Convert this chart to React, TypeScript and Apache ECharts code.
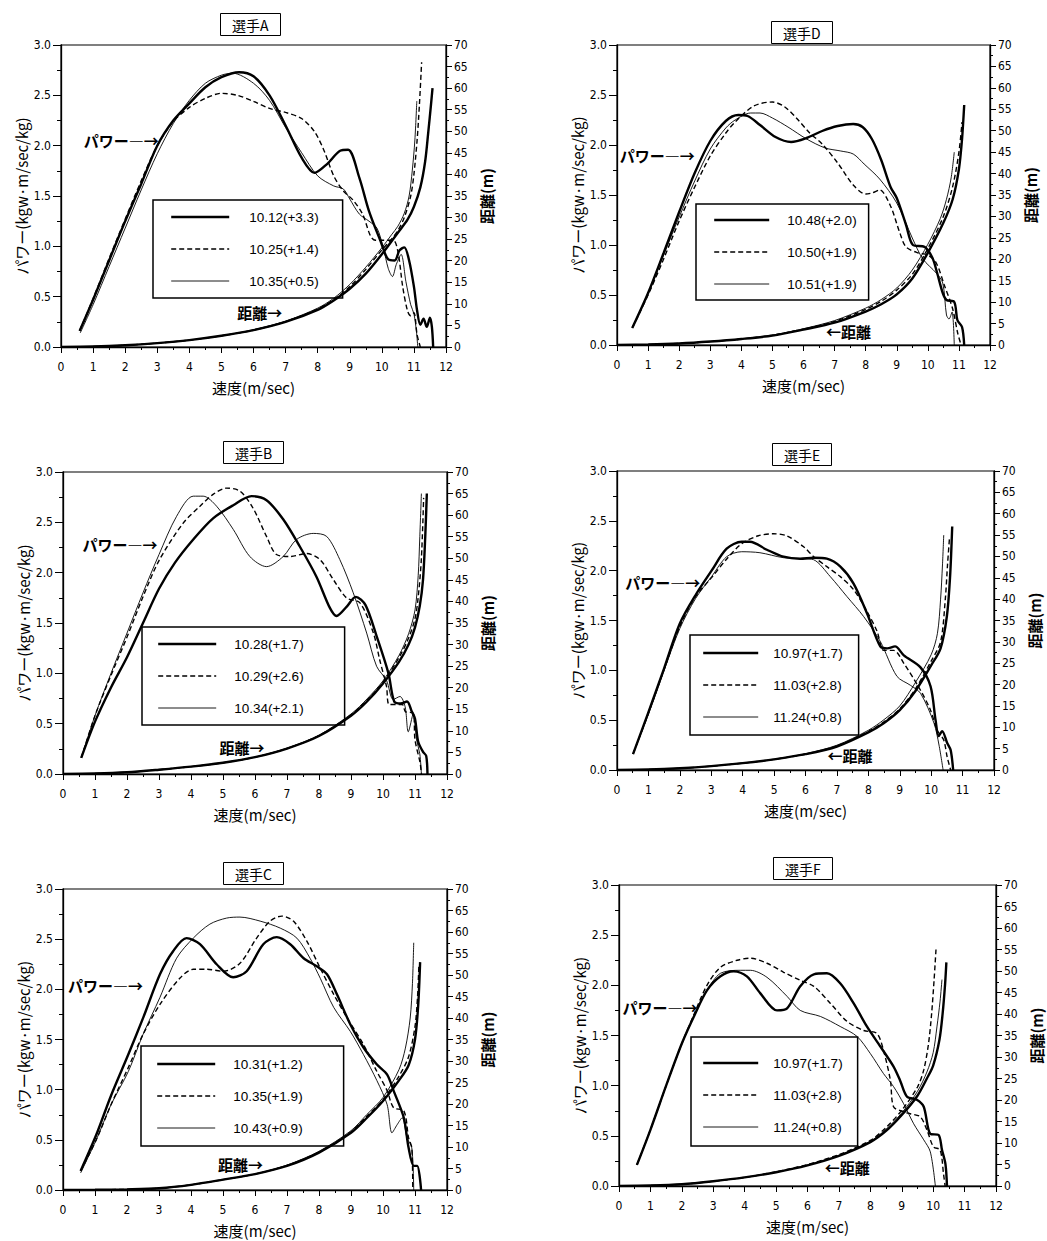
import React, { useEffect, useRef } from "react";
import * as echarts from "echarts";

// ---------------- data ----------------
const A_NAMES = ["10.12(+3.3)", "10.25(+1.4)", "10.35(+0.5)"];
const A_POWER_1 = [[0.58,0.16],[1,0.47],[1.5,0.86],[2,1.25],[2.5,1.62],[3,2.0],[3.5,2.25],[4,2.42],[4.5,2.58],[5,2.68],[5.55,2.73],[6,2.69],[6.5,2.5],[7,2.2],[7.5,1.88],[7.9,1.73],[8.3,1.82],[8.7,1.95],[8.95,1.96],[9.3,1.68],[9.6,1.35],[9.95,1.06],[10.2,0.87],[10.4,0.86],[10.55,0.96],[10.7,0.99],[10.85,0.86],[11,0.6],[11.1,0.36],[11.2,0.22],[11.3,0.28],[11.4,0.2],[11.5,0.29],[11.56,0.2],[11.6,0]];
const A_POWER_2 = [[0.58,0.16],[1,0.48],[1.5,0.88],[2,1.27],[2.5,1.65],[3,2.0],[3.5,2.24],[4,2.38],[4.5,2.47],[5,2.52],[5.5,2.5],[6,2.44],[6.5,2.37],[7,2.33],[7.5,2.27],[7.9,2.14],[8.2,1.95],[8.5,1.7],[8.8,1.55],[9.1,1.46],[9.4,1.32],[9.65,1.1],[9.8,1.06],[10.35,1.06],[10.5,0.95],[10.65,0.6],[10.8,0.36],[10.9,0.31],[11.0,0.34],[11.1,0.12],[11.2,0]];
const A_POWER_3 = [[0.6,0.14],[1,0.42],[1.5,0.8],[2,1.18],[2.5,1.56],[3,1.92],[3.5,2.22],[4,2.45],[4.5,2.62],[5,2.7],[5.35,2.72],[6,2.62],[6.5,2.45],[7,2.18],[7.5,1.93],[8,1.7],[8.5,1.6],[8.8,1.57],[9,1.47],[9.3,1.32],[9.6,1.25],[9.85,1.18],[10.05,0.98],[10.2,0.78],[10.33,0.7],[10.45,0.82],[10.6,0.92],[10.75,0.65],[10.9,0.42],[11.0,0.33],[11.08,0.15],[11.12,0]];
const A_DIST_1 = [[0,0],[1,0.1],[2,0.4],[3,0.9],[4,1.6],[5,2.6],[6,3.9],[7,5.8],[8,8.6],[8.5,10.8],[9,13.5],[9.5,17],[10,21.5],[10.5,26.5],[10.8,29.5],[11,32.5],[11.2,37],[11.35,43],[11.45,50],[11.53,56],[11.58,60]];
const A_DIST_2 = [[0,0],[1,0.1],[2,0.4],[3,0.9],[4,1.6],[5,2.6],[6,3.9],[7,5.9],[8,8.8],[8.5,11],[9,14],[9.5,18],[10,22.5],[10.3,25],[10.5,27],[10.7,30],[10.9,35],[11.0,40],[11.1,48],[11.17,56],[11.24,66]];
const A_DIST_3 = [[0,0],[1,0.1],[2,0.4],[3,0.9],[4,1.6],[5,2.6],[6,4.0],[7,6.0],[8,9.0],[8.5,11.3],[9,14.5],[9.5,18.5],[10,23],[10.3,26],[10.5,28],[10.7,31],[10.85,35],[10.95,41],[11.03,48],[11.09,57]];

const B_NAMES = ["10.28(+1.7)", "10.29(+2.6)", "10.34(+2.1)"];
const B_POWER_1 = [[0.57,0.16],[1,0.52],[1.5,0.86],[2,1.16],[2.5,1.5],[3,1.84],[3.5,2.1],[4.07,2.33],[4.69,2.54],[5.32,2.67],[5.89,2.76],[6.36,2.72],[6.88,2.53],[7.4,2.26],[7.92,1.96],[8.34,1.65],[8.55,1.57],[8.86,1.66],[9.15,1.76],[9.45,1.68],[9.8,1.37],[10.17,1.0],[10.35,0.72],[10.55,0.7],[10.75,0.72],[10.9,0.62],[11.0,0.55],[11.1,0.32],[11.25,0.22],[11.35,0.18],[11.39,0]];
const B_POWER_2 = [[0.57,0.16],[1,0.58],[1.5,0.98],[2,1.36],[2.5,1.76],[3,2.12],[3.75,2.49],[4.28,2.66],[4.7,2.78],[5.11,2.84],[5.53,2.81],[5.94,2.64],[6.36,2.36],[6.67,2.18],[7.09,2.16],[7.61,2.19],[8.03,2.13],[8.45,1.93],[8.86,1.75],[9.28,1.7],[9.7,1.4],[9.9,1.13],[10.11,0.87],[10.2,0.69],[10.6,0.69],[10.7,0.62],[10.95,0.6],[11.0,0.34],[11.16,0.11],[11.2,0]];
const B_POWER_3 = [[0.57,0.16],[1,0.58],[1.5,1.0],[2,1.4],[2.5,1.8],[3,2.18],[3.55,2.56],[4.07,2.76],[4.38,2.76],[4.8,2.66],[5.32,2.43],[5.84,2.16],[6.36,2.06],[6.88,2.16],[7.3,2.33],[7.82,2.39],[8.24,2.36],[8.65,2.13],[9.07,1.8],[9.49,1.4],[9.8,1.07],[10.11,0.93],[10.32,0.74],[10.53,0.77],[10.69,0.67],[10.79,0.42],[10.95,0.6],[11.05,0.34],[11.15,0.2],[11.2,0]];
const B_DIST_1 = [[0,0],[1,0.1],[2,0.4],[3,1.0],[4,1.7],[5,2.6],[6,3.9],[7,5.9],[8,8.8],[9,13.5],[9.5,16.8],[10,21],[10.5,26],[10.8,30],[11,34],[11.15,39],[11.25,45],[11.32,55],[11.37,65]];
const B_DIST_2 = [[0,0],[1,0.1],[2,0.4],[3,1.0],[4,1.7],[5,2.6],[6,3.9],[7,5.9],[8,8.9],[9,13.7],[9.5,17.1],[10,21.3],[10.5,27],[10.8,31.5],[11,36],[11.1,41],[11.2,50],[11.27,64]];
const B_DIST_3 = [[0,0],[1,0.1],[2,0.4],[3,1.0],[4,1.7],[5,2.6],[6,3.9],[7,6.0],[8,9.0],[9,13.9],[9.5,17.4],[10,21.6],[10.5,27.5],[10.8,32.5],[11,38],[11.1,46],[11.15,55],[11.2,65]];

const C_NAMES = ["10.31(+1.2)", "10.35(+1.9)", "10.43(+0.9)"];
const C_POWER_1 = [[0.55,0.19],[1.04,0.55],[1.5,0.94],[2.04,1.35],[2.51,1.72],[3.03,2.15],[3.44,2.38],[3.86,2.51],[4.28,2.45],[4.8,2.25],[5.32,2.12],[5.74,2.18],[6.26,2.45],[6.68,2.52],[7.1,2.45],[7.52,2.31],[7.93,2.23],[8.25,2.15],[8.56,1.95],[8.98,1.65],[9.39,1.42],[9.81,1.25],[10.13,1.15],[10.33,0.99],[10.65,0.72],[10.8,0.42],[10.96,0.24],[11.07,0.24],[11.19,0]];
const C_POWER_2 = [[0.55,0.19],[1.04,0.5],[1.5,0.85],[2.04,1.22],[2.5,1.55],[3.03,1.85],[3.65,2.11],[4.07,2.2],[4.49,2.2],[5.01,2.18],[5.53,2.26],[6.05,2.51],[6.47,2.68],[6.84,2.73],[7.2,2.68],[7.62,2.48],[8.04,2.21],[8.46,1.95],[8.87,1.72],[9.39,1.45],[9.81,1.18],[10.13,0.99],[10.33,0.82],[10.65,0.79],[10.8,0.52],[10.9,0.42],[10.93,0]];
const C_POWER_3 = [[0.55,0.17],[1.04,0.5],[1.5,0.85],[2.04,1.18],[2.5,1.55],[3.03,1.92],[3.55,2.31],[4.07,2.51],[4.59,2.65],[5.11,2.71],[5.53,2.72],[6.16,2.68],[6.79,2.61],[7.31,2.51],[7.72,2.31],[8.04,2.11],[8.46,1.82],[8.98,1.58],[9.39,1.35],[9.81,1.09],[10.13,0.85],[10.28,0.57],[10.44,0.65],[10.6,0.72],[10.75,0.52],[10.9,0.42],[10.96,0]];
const C_DIST_1 = [[0,0],[1,0.05],[2,0.15],[3,0.4],[4,1.2],[5,2.4],[6,3.7],[7,5.6],[8,8.7],[9,13.3],[9.5,16.8],[10,20.7],[10.5,25.5],[10.8,29],[11,35],[11.1,43],[11.16,53]];
const C_DIST_2 = [[0,0],[1,0.05],[2,0.15],[3,0.4],[4,1.2],[5,2.4],[6,3.7],[7,5.7],[8,8.8],[9,13.5],[9.5,17.2],[10,21],[10.5,26.5],[10.8,31],[11,38],[11.08,45],[11.12,52]];
const C_DIST_3 = [[0,0],[1,0.05],[2,0.15],[3,0.4],[4,1.2],[5,2.4],[6,3.7],[7,5.8],[8,9.0],[9,13.8],[9.5,17.6],[10,21.5],[10.5,28],[10.7,33],[10.85,40],[10.92,48],[10.96,57.5]];

const D_NAMES = ["10.48(+2.0)", "10.50(+1.9)", "10.51(+1.9)"];
const D_POWER_1 = [[0.49,0.17],[1,0.52],[1.5,0.92],[2,1.33],[2.5,1.72],[3,2.04],[3.5,2.24],[3.9,2.3],[4.2,2.29],[4.6,2.2],[5.1,2.08],[5.6,2.03],[6.1,2.07],[6.6,2.14],[7.1,2.19],[7.6,2.21],[7.9,2.18],[8.2,2.06],[8.5,1.85],[8.8,1.58],[9.0,1.47],[9.3,1.2],[9.52,1.0],[9.9,0.98],[10.15,0.87],[10.3,0.72],[10.48,0.52],[10.6,0.45],[10.85,0.43],[10.95,0.25],[11.1,0.18],[11.17,0]];
const D_POWER_2 = [[0.49,0.17],[1,0.5],[1.5,0.86],[2,1.24],[2.5,1.58],[3,1.89],[3.5,2.12],[3.8,2.23],[4.4,2.39],[5.0,2.43],[5.4,2.38],[5.8,2.26],[6.2,2.12],[6.6,2.01],[7.1,1.82],[7.6,1.6],[8.0,1.51],[8.2,1.52],[8.45,1.55],[8.8,1.39],[9.1,1.12],[9.3,0.98],[9.7,0.92],[10.0,0.9],[10.27,0.82],[10.54,0.59],[10.8,0.36],[10.96,0.12],[11.07,0]];
const D_POWER_3 = [[0.49,0.17],[1,0.51],[1.5,0.9],[2,1.28],[2.5,1.64],[3,1.96],[3.5,2.17],[3.8,2.25],[4.3,2.32],[4.6,2.32],[5.0,2.27],[5.5,2.18],[6.1,2.06],[6.7,1.97],[7.2,1.94],[7.6,1.91],[7.95,1.81],[8.45,1.66],[9.0,1.42],[9.5,1.07],[9.84,0.86],[10.27,0.72],[10.48,0.62],[10.6,0.3],[10.68,0.26],[10.78,0.33],[10.85,0]];
const D_DIST_1 = [[0,0],[1,0.1],[2,0.35],[3,0.8],[4,1.4],[5,2.2],[6,3.6],[7,5.2],[8,7.8],[8.5,9.5],[9,11.8],[9.5,15.5],[10,21.5],[10.5,28.5],[10.8,34],[11,41],[11.1,48],[11.17,56]];
const D_DIST_2 = [[0,0],[1,0.1],[2,0.35],[3,0.8],[4,1.4],[5,2.3],[6,3.7],[7,5.5],[8,8.3],[8.5,10.2],[9,12.8],[9.5,16.5],[10,22.5],[10.5,30],[10.8,37],[11,45],[11.1,52]];
const D_DIST_3 = [[0,0],[1,0.1],[2,0.35],[3,0.8],[4,1.4],[5,2.3],[6,3.8],[7,5.7],[8,8.6],[8.5,10.6],[9,13.3],[9.5,17.5],[10,23.5],[10.4,29.5],[10.6,34],[10.75,39],[10.85,45]];

const E_NAMES = ["10.97(+1.7)", "11.03(+2.8)", "11.24(+0.8)"];
const E_POWER_1 = [[0.51,0.16],[0.99,0.57],[1.5,1.02],[2,1.47],[2.53,1.77],[3.01,2.0],[3.49,2.22],[3.97,2.29],[4.23,2.29],[4.77,2.21],[5.3,2.14],[5.83,2.12],[6.26,2.13],[6.68,2.12],[7.11,2.04],[7.53,1.87],[7.96,1.57],[8.38,1.24],[8.6,1.22],[8.85,1.24],[9.13,1.15],[9.66,1.03],[9.98,0.84],[10.14,0.5],[10.24,0.34],[10.35,0.39],[10.51,0.27],[10.62,0.2],[10.7,0]];
const E_POWER_2 = [[0.51,0.16],[1,0.57],[1.5,1.01],[2,1.44],[2.5,1.74],[3.01,1.93],[3.5,2.12],[3.97,2.27],[4.5,2.35],[4.98,2.37],[5.4,2.35],[5.94,2.24],[6.26,2.14],[6.68,2.04],[7.11,1.94],[7.53,1.81],[7.96,1.59],[8.28,1.39],[8.49,1.2],[8.81,1.2],[9.13,1.07],[9.66,0.8],[9.98,0.6],[10.19,0.4],[10.4,0.3],[10.51,0.13],[10.62,0]];
const E_POWER_3 = [[0.51,0.16],[1,0.56],[1.5,1.0],[2,1.42],[2.5,1.72],[3.01,1.94],[3.49,2.14],[3.97,2.19],[4.55,2.18],[5.3,2.13],[5.94,2.12],[6.26,2.11],[6.79,1.94],[7.32,1.74],[7.85,1.54],[8.38,1.29],[8.91,0.94],[9.34,0.85],[9.66,0.77],[10.09,0.47],[10.25,0.25],[10.38,0]];
const E_DIST_1 = [[0,0],[1,0.1],[2,0.4],[3,0.9],[4,1.6],[5,2.5],[6,3.7],[7,5.5],[8,8.8],[8.5,11],[9,14],[9.5,18.5],[10,24.5],[10.3,28.5],[10.5,36],[10.6,45],[10.67,57]];
const E_DIST_2 = [[0,0],[1,0.1],[2,0.4],[3,0.9],[4,1.6],[5,2.5],[6,3.7],[7,5.6],[8,9.0],[8.5,11.3],[9,14.3],[9.5,19],[10,25.5],[10.3,30],[10.45,40],[10.52,48],[10.58,54]];
const E_DIST_3 = [[0,0],[1,0.1],[2,0.4],[3,0.9],[4,1.6],[5,2.5],[6,3.8],[7,5.8],[8,9.3],[8.5,11.8],[9,15],[9.5,20.5],[10,27],[10.2,32],[10.3,40],[10.36,48],[10.4,55]];

const F_NAMES = ["10.97(+1.7)", "11.03(+2.8)", "11.24(+0.8)"];
const F_POWER_1 = [[0.57,0.21],[1,0.56],[1.5,1.0],[2,1.42],[2.4,1.7],[2.8,1.95],[3.23,2.09],[3.65,2.14],[4.07,2.09],[4.5,1.92],[5.03,1.75],[5.35,1.77],[5.77,1.99],[6.2,2.11],[6.62,2.12],[7.04,2.02],[7.47,1.82],[7.89,1.59],[8.32,1.39],[8.74,1.19],[8.95,1.05],[9.17,0.89],[9.48,0.86],[9.7,0.79],[9.91,0.52],[10.17,0.51],[10.28,0.36],[10.39,0.22],[10.44,0]];
const F_POWER_2 = [[0.57,0.21],[1,0.56],[1.5,1.0],[2,1.42],[2.4,1.72],[2.8,2.0],[3.23,2.18],[3.76,2.25],[4.18,2.27],[4.71,2.22],[5.24,2.13],[5.77,2.05],[6.2,1.99],[6.73,1.82],[7.26,1.64],[7.79,1.55],[8.21,1.52],[8.42,1.35],[8.64,1.05],[8.74,0.79],[9.06,0.74],[9.27,0.72],[9.59,0.69],[9.8,0.56],[10.01,0.39],[10.22,0.36],[10.33,0.12],[10.38,0]];
const F_POWER_3 = [[0.57,0.21],[1,0.56],[1.5,1.0],[2,1.42],[2.4,1.7],[2.8,1.95],[3.23,2.12],[3.86,2.15],[4.18,2.15],[4.71,2.08],[5.35,1.89],[5.77,1.75],[6.41,1.69],[7.04,1.59],[7.58,1.49],[8.0,1.32],[8.42,1.12],[8.74,0.99],[9.06,0.82],[9.38,0.62],[9.7,0.46],[9.91,0.34],[10.07,0]];
const F_DIST_1 = [[0,0],[1,0.1],[2,0.4],[3,1.1],[4,2.0],[5,3.2],[6,4.8],[7,7.0],[8,10.2],[8.5,12.8],[9,16.5],[9.5,21],[9.8,25],[10,28],[10.2,34],[10.3,40],[10.38,47],[10.42,52]];
const F_DIST_2 = [[0,0],[1,0.1],[2,0.4],[3,1.1],[4,2.0],[5,3.3],[6,5.0],[7,7.3],[8,10.6],[8.5,13.6],[9,17.6],[9.5,23],[9.7,27],[9.85,33],[9.95,40],[10.03,48],[10.09,55]];
const F_DIST_3 = [[0,0],[1,0.1],[2,0.4],[3,1.1],[4,2.0],[5,3.2],[6,4.9],[7,7.1],[8,10.4],[8.5,13.2],[9,17],[9.5,22],[9.8,26.5],[10,31],[10.12,37],[10.22,43],[10.28,48]];

const X_TICKS = [0, 12, 1];
const POWER_AXIS = [0, 3, 0.5];
const DIST_AXIS = [0, 70, 5];

// ---------------- layout / style ----------------
const FONT_NUM = '"Liberation Sans Narrow","DejaVu Sans Condensed","Liberation Sans",Arial,sans-serif';
const FONT_JP = '"Noto Sans CJK JP","Noto Sans",sans-serif';

const LINE_STYLES: any[] = [
  { width: 2.4, type: "solid" },
  { width: 1.4, type: [5, 3] },
  { width: 0.9, type: "solid" },
];

const PANELS: any[] = [
  {
    key: "A", title: "選手A", names: A_NAMES,
    power: [A_POWER_1, A_POWER_2, A_POWER_3], dist: [A_DIST_1, A_DIST_2, A_DIST_3],
    grid: { left: 61, top: 45, width: 385, height: 302 },
    titlePos: { left: 220, top: 13 },
    legend: { left: 153, top: 200, padding: [10, 24, 10, 17], itemWidth: 58, gap: 15 },
    pLabel: { at: [3.05, 2.05], side: "left" }, dLabel: { at: [6.9, 0.34], side: "left" },
  },
  {
    key: "B", title: "選手B", names: B_NAMES,
    power: [B_POWER_1, B_POWER_2, B_POWER_3], dist: [B_DIST_1, B_DIST_2, B_DIST_3],
    grid: { left: 63, top: 472, width: 384, height: 302 },
    titlePos: { left: 223, top: 441 },
    legend: { left: 142, top: 627, padding: [10, 41, 10, 15], itemWidth: 58, gap: 13 },
    pLabel: { at: [2.95, 2.28], side: "left" }, dLabel: { at: [6.3, 0.26], side: "left" },
  },
  {
    key: "C", title: "選手C", names: C_NAMES,
    power: [C_POWER_1, C_POWER_2, C_POWER_3], dist: [C_DIST_1, C_DIST_2, C_DIST_3],
    grid: { left: 63, top: 889, width: 384, height: 301 },
    titlePos: { left: 223, top: 862 },
    legend: { left: 141, top: 1046, padding: [11, 41, 11, 15], itemWidth: 58, gap: 13 },
    pLabel: { at: [2.5, 2.04], side: "left" }, dLabel: { at: [6.25, 0.25], side: "left" },
  },
  {
    key: "D", title: "選手D", names: D_NAMES,
    power: [D_POWER_1, D_POWER_2, D_POWER_3], dist: [D_DIST_1, D_DIST_2, D_DIST_3],
    grid: { left: 617, top: 45, width: 373, height: 300 },
    titlePos: { left: 771, top: 21 },
    legend: { left: 696, top: 204, padding: [9, 12, 9, 17], itemWidth: 55, gap: 13 },
    pLabel: { at: [2.5, 1.9], side: "left" }, dLabel: { at: [6.72, 0.14], side: "right" },
  },
  {
    key: "E", title: "選手E", names: E_NAMES,
    power: [E_POWER_1, E_POWER_2, E_POWER_3], dist: [E_DIST_1, E_DIST_2, E_DIST_3],
    grid: { left: 617, top: 471, width: 377, height: 299 },
    titlePos: { left: 772, top: 443 },
    legend: { left: 690, top: 635, padding: [11, 16, 11, 12], itemWidth: 55, gap: 10 },
    pLabel: { at: [2.65, 1.88], side: "left" }, dLabel: { at: [6.7, 0.15], side: "right" },
  },
  {
    key: "F", title: "選手F", names: F_NAMES,
    power: [F_POWER_1, F_POWER_2, F_POWER_3], dist: [F_DIST_1, F_DIST_2, F_DIST_3],
    grid: { left: 619, top: 885, width: 377, height: 301 },
    titlePos: { left: 773, top: 857 },
    legend: { left: 691, top: 1037, padding: [19, 15, 12, 11], itemWidth: 55, gap: 10 },
    pLabel: { at: [2.5, 1.78], side: "left" }, dLabel: { at: [6.55, 0.18], side: "right" },
  },
];

function buildOption() {
  const grid: any[] = [];
  const xAxis: any[] = [];
  const yAxis: any[] = [];
  const series: any[] = [];
  const legend: any[] = [];
  const title: any[] = [];
  const black = { color: "#000" };

  PANELS.forEach((p, i) => {
    grid.push({ ...p.grid, show: true, borderColor: "#000", borderWidth: 1.2, backgroundColor: "transparent" });
    title.push({
      text: p.title, left: p.titlePos.left, top: p.titlePos.top,
      borderColor: "#000", borderWidth: 1, padding: [4, 12],
      textStyle: { fontSize: 14, fontWeight: "normal", color: "#000", fontFamily: FONT_JP, lineHeight: 15 },
    });
    xAxis.push({
      gridIndex: i, type: "value", min: X_TICKS[0], max: X_TICKS[1], interval: X_TICKS[2],
      name: "速度(m/sec)", nameLocation: "middle", nameGap: 33,
      nameTextStyle: { fontSize: 15, color: "#000", fontFamily: FONT_JP },
      axisLine: { lineStyle: { color: "#000", width: 1.3 } },
      axisTick: { show: true, length: 6, lineStyle: black },
      minorTick: { show: true, splitNumber: 2, length: 3, lineStyle: black },
      axisLabel: { color: "#000", fontSize: 12, margin: 14, fontFamily: FONT_NUM },
      splitLine: { show: false },
    });
    yAxis.push({
      gridIndex: i, type: "value", position: "left", min: POWER_AXIS[0], max: POWER_AXIS[1], interval: POWER_AXIS[2],
      name: "パワー(kgw·m/sec/kg)", nameLocation: "middle", nameGap: 32, nameRotate: 90,
      nameTextStyle: { fontSize: 15, color: "#000", fontFamily: FONT_JP },
      axisLine: { show: true, lineStyle: { color: "#000", width: 1.3 } },
      axisTick: { show: true, length: 8, lineStyle: black },
      minorTick: { show: true, splitNumber: 2, length: 4, lineStyle: black },
      axisLabel: { color: "#000", fontSize: 12, margin: 10, fontFamily: FONT_NUM, formatter: (v: number) => v.toFixed(1) },
      splitLine: { show: false },
    });
    yAxis.push({
      gridIndex: i, type: "value", position: "right", min: DIST_AXIS[0], max: DIST_AXIS[1], interval: DIST_AXIS[2],
      name: "距離(m)", nameLocation: "middle", nameGap: 33, nameRotate: 90,
      nameTextStyle: { fontSize: 15, fontWeight: "bold", color: "#000", fontFamily: FONT_JP },
      axisLine: { show: true, lineStyle: { color: "#000", width: 1.3 } },
      axisTick: { show: true, length: 6, lineStyle: black },
      minorTick: { show: true, splitNumber: 2, length: 3, lineStyle: black },
      axisLabel: { color: "#000", fontSize: 12, margin: 8, fontFamily: FONT_NUM },
      splitLine: { show: false },
    });
    p.power.forEach((d: number[][], k: number) => {
      series.push({
        type: "line", name: p.names[k], xAxisIndex: i, yAxisIndex: 2 * i, data: d,
        symbol: "none", smooth: 0.3, z: 3,
        lineStyle: { color: "#000", width: LINE_STYLES[k].width, type: LINE_STYLES[k].type },
        itemStyle: { color: "#000" },
      });
    });
    p.dist.forEach((d: number[][], k: number) => {
      series.push({
        type: "line", name: `${p.key}-dist-${k}`, xAxisIndex: i, yAxisIndex: 2 * i + 1, data: d,
        symbol: "none", smooth: 0.3, z: 3,
        lineStyle: { color: "#000", width: LINE_STYLES[k].width, type: LINE_STYLES[k].type },
        itemStyle: { color: "#000" },
      });
    });
    const labelBase = { show: true, color: "#000", opacity: 1, fontSize: 15, fontWeight: "bold", fontFamily: FONT_JP, distance: 0 };
    series.push({
      type: "scatter", name: `${p.key}-plabel`, xAxisIndex: i, yAxisIndex: 2 * i, symbolSize: 0, silent: true,
      itemStyle: { color: "#000", opacity: 1 },
      data: [p.pLabel.at],
      label: { ...labelBase, position: p.pLabel.side, formatter: "パワー―→" },
    });
    series.push({
      type: "scatter", name: `${p.key}-dlabel`, xAxisIndex: i, yAxisIndex: 2 * i, symbolSize: 0, silent: true,
      itemStyle: { color: "#000", opacity: 1 },
      data: [p.dLabel.at],
      label: { ...labelBase, position: p.dLabel.side, formatter: p.dLabel.side === "left" ? "距離→" : "←距離" },
    });
    legend.push({
      data: p.names.map((n: string, k: number) => ({
        name: n,
        lineStyle: { width: LINE_STYLES[k].width, type: LINE_STYLES[k].type, color: "#000" },
        itemStyle: { opacity: 0 },
      })),
      orient: "vertical", left: p.legend.left, top: p.legend.top,
      itemWidth: p.legend.itemWidth, itemHeight: 12, itemGap: 18,
      padding: p.legend.padding, borderColor: "#000", borderWidth: 1.5,
      selectedMode: false,
      itemStyle: { opacity: 0 },
      textStyle: { fontSize: 13.5, color: "#000", fontFamily: '"Liberation Sans",Arial,sans-serif', padding: [0, 0, 0, p.legend.gap] },
    });
  });

  return { animation: false, backgroundColor: "#fff", grid, xAxis, yAxis, series, legend, title };
}

export default function App() {
  const ref = useRef<HTMLDivElement>(null);
  useEffect(() => {
    if (!ref.current) return;
    const chart = echarts.init(ref.current, undefined, { renderer: "svg" });
    chart.setOption(buildOption() as any);
    return () => chart.dispose();
  }, []);
  return (
    <div
      ref={ref}
      style={{ position: "absolute", left: 0, top: 0, width: 1047, height: 1241, background: "#fff" }}
    />
  );
}
